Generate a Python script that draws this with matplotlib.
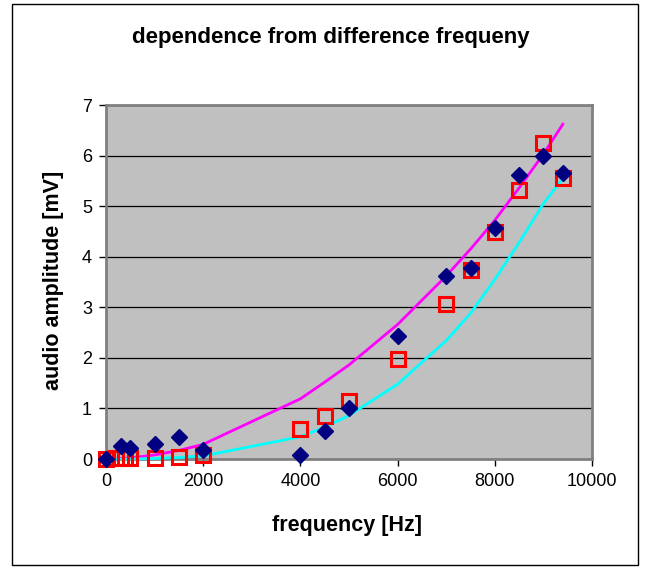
import matplotlib
matplotlib.use("Agg")
import matplotlib.pyplot as plt
from matplotlib.patches import Rectangle

plt.rcParams['font.family'] = ['Liberation Sans', 'DejaVu Sans']

# measured amplitudes (diamonds)
freq_a = [0, 300, 500, 1000, 1500, 2000, 4000, 4500, 5000, 6000, 7000, 7500, 8000, 8500, 9000, 9400]
amp_a = [0.0, 0.26, 0.22, 0.29, 0.43, 0.17, 0.08, 0.56, 1.0, 2.44, 3.62, 3.77, 4.57, 5.62, 5.99, 5.65]

# second measurement (open squares)
freq_b = [0, 200, 300, 400, 500, 1000, 1500, 2000, 4000, 4500, 5000, 6000, 7000, 7500, 8000, 8500, 9000, 9400]
amp_b = [0.0, 0.01, 0.01, 0.01, 0.01, 0.01, 0.03, 0.08, 0.59, 0.86, 1.15, 1.97, 3.07, 3.73, 4.48, 5.31, 6.24, 5.56]

# curves
freq_c = [0, 500, 1000, 1500, 2000, 4000, 4500, 5000, 6000, 7000, 7500, 8000, 8500, 9000, 9400]
curve_m = [0.0, 0.02, 0.08, 0.17, 0.29, 1.19, 1.52, 1.86, 2.66, 3.62, 4.15, 4.72, 5.36, 6.03, 6.62]
curve_c = [0.0, 0.0, 0.01, 0.03, 0.06, 0.44, 0.63, 0.86, 1.48, 2.34, 2.88, 3.55, 4.28, 5.05, 5.55]

W, H = 650, 569
fig = plt.figure(figsize=(W/100, H/100), dpi=100)
ax = fig.add_axes([106/W, 1-459/H, 486/W, 354/H])
ax.set_facecolor('#c0c0c0')

ax.plot(freq_c, curve_m, color='#ff00ff', lw=2, zorder=3, clip_on=False)
ax.plot(freq_c, curve_c, color='#00ffff', lw=2, zorder=3, clip_on=False)
ax.plot(freq_b, amp_b, 's', mfc='none', mec='#ff0000', ms=10, mew=2.2, zorder=4, clip_on=False)
ax.plot(freq_a, amp_a, 'D', color='#000080', ms=8.5, zorder=5, clip_on=False)

ax.set_xlim(0, 10000)
ax.set_ylim(0, 7)
ax.set_xticks(range(0, 10001, 2000))
ax.set_yticks(range(0, 8))
ax.yaxis.grid(True, color='black', lw=0.9)
ax.set_axisbelow(True)

for s in ax.spines.values():
    s.set_color('#808080')
    s.set_linewidth(2)
ax.tick_params(direction='out', length=5, width=1, color='black', labelsize=13, pad=5)

fig.text(347/W, 1-526/H, 'frequency [Hz]', ha='center', va='center', fontsize=15.5, fontweight='bold')
fig.text(54/W, 1-280/H, 'audio amplitude [mV]', ha='center', va='center', rotation=90,
         fontsize=15.5, fontweight='bold')
fig.text(331/W, 1-37/H, 'dependence from difference frequeny', ha='center', va='center',
         fontsize=16, fontweight='bold')

fig.patches.append(Rectangle((12/W, 4/H), 626/W, 561/H, transform=fig.transFigure,
                             fill=False, edgecolor='black', lw=1))

fig.savefig('out.png', dpi=100)
